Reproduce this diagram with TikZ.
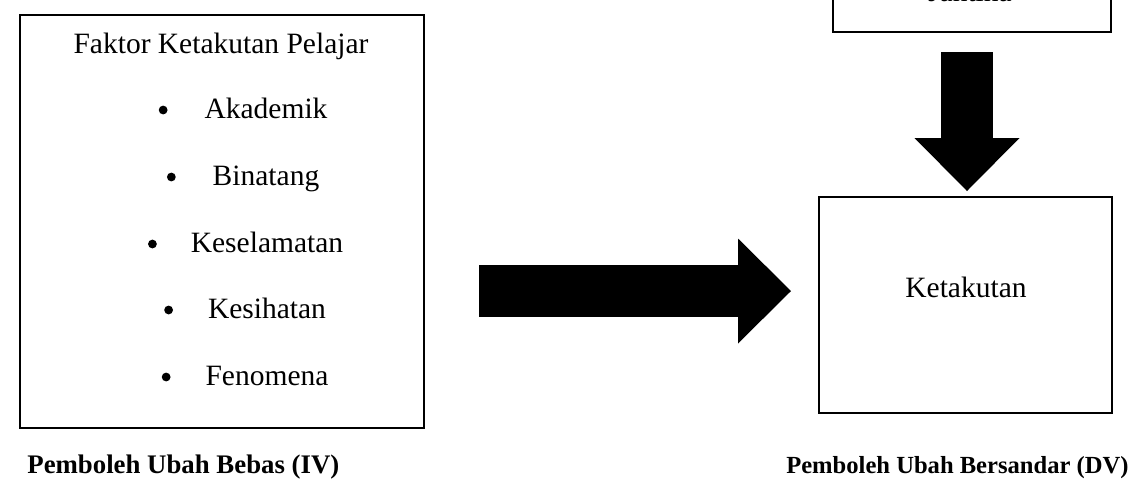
\documentclass[tikz,border=0pt]{standalone}
\usepackage{fontspec}
\setmainfont{Liberation Serif}
\usetikzlibrary{arrows.meta,positioning}

\begin{document}
\begin{tikzpicture}[
    x=0.5pt, y=-0.5pt,
    every node/.style={inner sep=0pt},
    box/.style={draw, rectangle, line width=0.9pt},
    txt/.style={font=\fontsize{14.75}{18}\selectfont, anchor=base},
    dot/.style={circle, fill, minimum size=4.4pt},
    caption/.style={font=\fontsize{13.4}{16}\selectfont\bfseries, anchor=base west},
    blockarrow/.style={line width=26pt, -{Triangle[length=26.5pt, width=52.5pt, line width=0pt]}}
  ]
  \useasboundingbox (0,0) rectangle (1132,479);
  \clip (0,0) rectangle (1132,479);

  % left box
  \node[box, minimum width=202pt, minimum height=206.5pt] (faktor) at (222,221.5) {};
  \node[txt] (tajuk) at (221,53) {Faktor Ketakutan Pelajar};
  \node[txt] (akademik) at (266,118) {Akademik};
  \node[txt] (binatang) at (266,185) {Binatang};
  \node[txt] (keselamatan) at (267,252) {Keselamatan};
  \node[txt] (kesihatan) at (267,318) {Kesihatan};
  \node[txt] (fenomena) at (267,385) {Fenomena};
  \node[dot] (akademik-dot) at ([xshift=-20.5pt, yshift=4pt]akademik.base west) {};
  \node[dot] (binatang-dot) at ([xshift=-20.5pt, yshift=4pt]binatang.base west) {};
  \node[dot] (keselamatan-dot) at ([xshift=-19pt, yshift=4pt]keselamatan.base west) {};
  \node[dot] (kesihatan-dot) at ([xshift=-19.5pt, yshift=4pt]kesihatan.base west) {};
  \node[dot] (fenomena-dot) at ([xshift=-19.5pt, yshift=4pt]fenomena.base west) {};

  % right boxes
  \node[box, minimum width=139pt, minimum height=51pt] (jantinabox) at (972,-19) {};
  \node[txt] (jantina) at (970,1) {Jantina};
  \node[box, minimum width=146.5pt, minimum height=108pt] (ketakutanbox) at (965.5,305) {};
  \node[txt] (ketakutan) at (966,297) {Ketakutan};

  % captions
  \node[caption] (iv) at (27,473) {Pemboleh Ubah Bebas (IV)};
  \node[caption, font=\fontsize{12.3}{15}\selectfont\bfseries, anchor=base east] (dv) at (1129,473) {Pemboleh Ubah Bersandar (DV)};

  % block arrows
  \coordinate (kanan-a) at (479,291);
  \coordinate (kanan-b) at (791,291);
  \coordinate (bawah-a) at (967,52);
  \coordinate (bawah-b) at (967,191);
  \draw[blockarrow] (kanan-a) -- (kanan-b);
  \draw[blockarrow] (bawah-a) -- (bawah-b);

\end{tikzpicture}
\end{document}
